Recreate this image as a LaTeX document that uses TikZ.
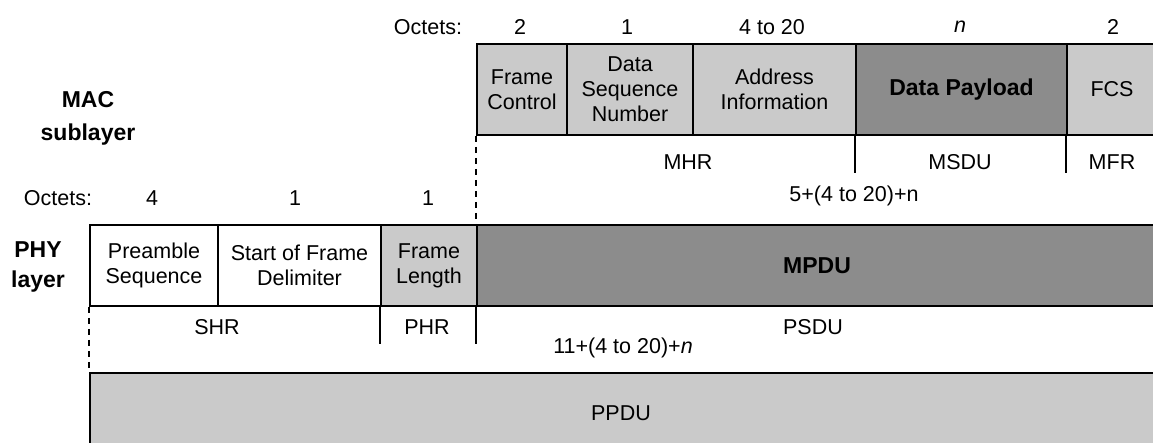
\documentclass[tikz,border=0pt]{standalone}
\usepackage{fontspec}
\setmainfont{Liberation Sans}
\definecolor{lightg}{RGB}{202,202,202}
\definecolor{darkg}{RGB}{140,140,140}
\tikzset{
  cell/.style={draw=black, line width=1.6pt, inner sep=0pt, align=center, font=\fontsize{21.5}{25}\selectfont},
  boldcell/.style={cell, font=\fontsize{23}{25}\selectfont\bfseries},
  lbl/.style={inner sep=0pt, align=center, font=\fontsize{21.5}{25}\selectfont},
  rule/.style={line width=1.6pt},
  dashrule/.style={line width=1.6pt, dash pattern=on 6pt off 5pt},
}
\begin{document}
\begin{tikzpicture}[x=1pt,y=-1pt]
\useasboundingbox[fill=white] (0,0) rectangle (1153,442);
\clip (0,0) rectangle (1153,442);

% MAC frame
\node[cell, fill=lightg, minimum width=90pt, minimum height=91pt] (fc) at (522,89.5) {Frame\\Control};
\node[cell, fill=lightg, minimum width=126pt, minimum height=91pt] (dsn) at (630,89.5) {Data\\Sequence\\Number};
\node[cell, fill=lightg, minimum width=163pt, minimum height=91pt] (addr) at (774.5,89.5) {Address\\Information};
\node[boldcell, fill=darkg, minimum width=211pt, minimum height=91pt] (payload) at (961.5,89.5) {Data Payload};
\node[cell, fill=lightg, minimum width=90pt, minimum height=91pt] (fcs) at (1112,89.5) {FCS};

% MAC octets
\node[lbl] (octm) at (428,27) {Octets:};
\node[lbl] (o1) at (520,27) {2};
\node[lbl] (o2) at (627,27) {1};
\node[lbl] (o3) at (772,27) {4 to 20};
\node[lbl] (o4) at (960,27) {\textit{n}};
\node[lbl] (o5) at (1113,27) {2};

\node[lbl, font=\fontsize{23}{33}\selectfont\bfseries] (mac) at (88,118) {MAC\\sublayer};

\node[lbl] (mhr) at (688,162) {MHR};
\node[lbl] (msdu) at (960,162) {MSDU};
\node[lbl] (mfr) at (1112,162) {MFR};
\node[lbl] (macsum) at (854,196) {5+(4 to 20)+n};

% PHY frame
\node[cell, fill=white, minimum width=128pt, minimum height=81pt] (pre) at (154,265.5) {Preamble\\Sequence};
\node[cell, fill=white, minimum width=163pt, minimum height=81pt] (sfd) at (299.5,265.5) {Start of Frame\\Delimiter};
\node[cell, fill=lightg, minimum width=96pt, minimum height=81pt] (fl) at (429,265.5) {Frame\\Length};
\node[boldcell, fill=darkg, minimum width=680pt, minimum height=81pt] (mpdu) at (817,265.5) {MPDU};

\node[lbl, font=\fontsize{23}{30}\selectfont\bfseries] (phy) at (38,267) {PHY\\layer};

\node[lbl] (octp) at (58,198) {Octets:};
\node[lbl] (p1) at (152,198) {4};
\node[lbl] (p2) at (295,198) {1};
\node[lbl] (p3) at (428,198) {1};

\node[lbl] (shr) at (217,327) {SHR};
\node[lbl] (phr) at (427,327) {PHR};
\node[lbl] (psdu) at (813,327) {PSDU};
\node[lbl] (physum) at (623,348) {11+(4 to 20)+\textit{n}};

\node[cell, fill=lightg, minimum width=1067pt, minimum height=80pt] (ppdu) at (623.5,413) {};
\node[lbl] (ppdutext) at (621,413) {PPDU};

% separators
\coordinate (e1) at ([yshift=-37pt]payload.south west);
\coordinate (e2) at ([yshift=-37pt]fcs.south west);
\coordinate (e3) at ([yshift=-37pt]fl.south west);
\coordinate (e4) at ([yshift=-37pt]mpdu.south west);
\draw[rule] (payload.south west) -- (e1);
\draw[rule] (fcs.south west) -- (e2);
\draw[rule] (fl.south west) -- (e3);
\draw[rule] (mpdu.south west) -- (e4);
\draw[dashrule] (fc.south west) -- (mpdu.north west);
\draw[dashrule] (pre.south west) -- (ppdu.north west);
\end{tikzpicture}
\end{document}
